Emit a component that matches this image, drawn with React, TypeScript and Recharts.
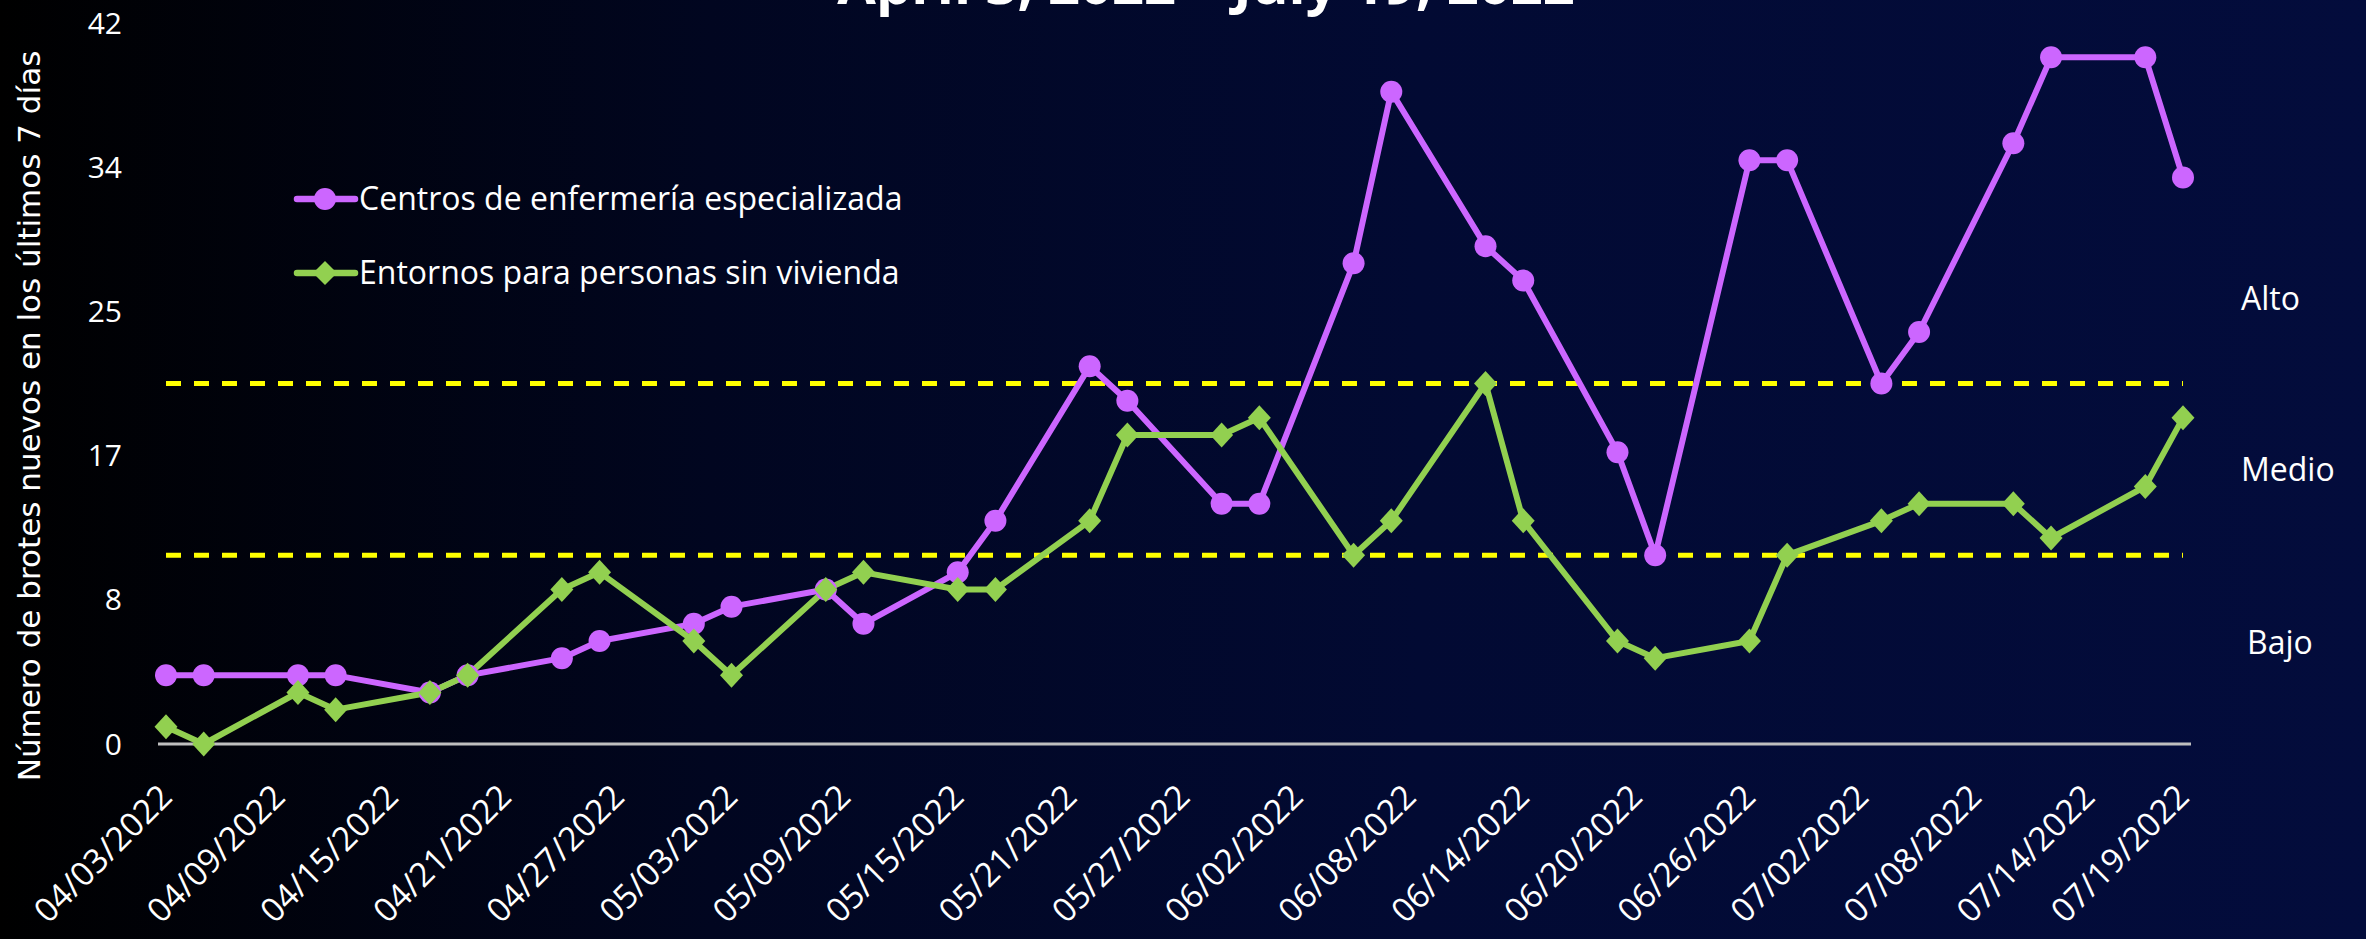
import React from "react"
import {
  LineChart,
  Line,
  XAxis,
  YAxis,
  ReferenceLine,
  Legend
} from "recharts"

// fechas de los datos (domingo / martes de cada semana)
const dates = [
  "04/03/2022", "04/05/2022", "04/10/2022", "04/12/2022", "04/17/2022", "04/19/2022",
  "04/24/2022", "04/26/2022", "05/01/2022", "05/03/2022", "05/08/2022", "05/10/2022",
  "05/15/2022", "05/17/2022", "05/22/2022", "05/24/2022", "05/29/2022", "05/31/2022",
  "06/05/2022", "06/07/2022", "06/12/2022", "06/14/2022", "06/19/2022", "06/21/2022",
  "06/26/2022", "06/28/2022", "07/03/2022", "07/05/2022", "07/10/2022", "07/12/2022",
  "07/17/2022", "07/19/2022",
]

const centros = [
  4, 4, 4, 4, 3, 4, 5, 6, 7, 8, 9, 7, 10, 13, 22, 20,
  14, 14, 28, 38, 29, 27, 17, 11, 34, 34, 21, 24, 35, 40, 40, 33,
]

const entornos = [
  1, 0, 3, 2, 3, 4, 9, 10, 6, 4, 9, 10, 9, 9, 13, 18,
  18, 19, 11, 13, 21, 13, 6, 5, 6, 11, 13, 14, 14, 12, 15, 19,
]

const tickLabels = [
  "04/03/2022", "04/09/2022", "04/15/2022", "04/21/2022", "04/27/2022", "05/03/2022",
  "05/09/2022", "05/15/2022", "05/21/2022", "05/27/2022", "06/02/2022", "06/08/2022",
  "06/14/2022", "06/20/2022", "06/26/2022", "07/02/2022", "07/08/2022", "07/14/2022",
  "07/19/2022",
]

const yTicks = [0, 8.4, 16.8, 25.2, 33.6, 42]
const thresholds = [11, 21]
const zoneLabels = ["Alto", "Medio", "Bajo"]
const seriesNames = ["Centros de enfermería especializada", "Entornos para personas sin vivienda"]

const PURPLE = "#CC66FF"
const GREEN = "#92D050"
const FONT = "'Open Sans', sans-serif"

const START = Date.UTC(2022, 3, 3)
const toDay = (s: string) => {
  const [m, d, y] = s.split("/").map(Number)
  return Math.round((Date.UTC(y, m - 1, d) - START) / 86400000)
}

const data = dates.map((d, i) => ({ day: toDay(d), centros: centros[i], entornos: entornos[i] }))
const tickDays = tickLabels.map(toDay)
const lastDay = tickDays[tickDays.length - 1]

function DateTick(props: any) {
  const { x, y, payload } = props
  const label = tickLabels[tickDays.indexOf(payload.value)]
  const tx = x + 8
  const ty = y + 55
  return (
    <text
      x={tx}
      y={ty}
      transform={`rotate(-45 ${tx} ${ty})`}
      textAnchor="end"
      fill="#fff"
      fontSize={33.5}
      fontFamily={FONT}
    >
      {label}
    </text>
  )
}

function CircleDot(props: any) {
  const { cx, cy, index } = props
  return <circle key={`c-${index}`} cx={cx} cy={cy} r={11} fill={PURPLE} />
}

function DiamondDot(props: any) {
  const { cx, cy, index } = props
  return (
    <path
      key={`d-${index}`}
      d={`M${cx},${cy - 12.5}L${cx + 11.5},${cy}L${cx},${cy + 12.5}L${cx - 11.5},${cy}Z`}
      fill={GREEN}
    />
  )
}

function LegendContent(props: any) {
  const { payload } = props
  return (
    <svg width={560} height={140} style={{ overflow: "visible" }}>
      {(payload || []).map((entry: any, i: number) => {
        const cy = 24 + i * 74
        return (
          <g key={entry.value}>
            <line x1={0} y1={cy} x2={58} y2={cy} stroke={entry.color} strokeWidth={6.5} strokeLinecap="round" />
            {entry.dataKey === "centros" ? (
              <circle cx={28} cy={cy} r={11} fill={entry.color} />
            ) : (
              <path d={`M28,${cy - 12}L40,${cy}L28,${cy + 12}L16,${cy}Z`} fill={entry.color} />
            )}
            <text x={62} y={cy + 11} fill="#fff" fontSize={32} fontFamily={FONT}>
              {entry.value}
            </text>
          </g>
        )
      })}
    </svg>
  )
}

export default function App() {
  return (
    <div
      style={{
        position: "absolute",
        left: 0,
        top: 0,
        width: 2366,
        height: 939,
        overflow: "hidden",
        background: "linear-gradient(90deg, #000000 0%, #010620 30%, #020a33 60%, #030c3c 100%)",
      }}
    >
      <LineChart
        width={2366}
        height={939}
        data={data}
        margin={{ top: 23, right: 175, bottom: 0, left: 0 }}
      >
        <XAxis
          type="number"
          dataKey="day"
          domain={[0, lastDay]}
          ticks={tickDays}
          interval={0}
          padding={{ left: 8, right: 8 }}
          height={195}
          tickSize={0}
          tickMargin={0}
          tickLine={false}
          axisLine={{ stroke: "#BFBFBF", strokeWidth: 3 }}
          tick={<DateTick />}
        />
        <YAxis
          type="number"
          domain={[0, 42]}
          ticks={yTicks}
          interval={0}
          width={158}
          axisLine={false}
          tickLine={false}
          tickMargin={30}
          tickFormatter={(v: number) => String(Math.round(v))}
          tick={{ fill: "#fff", fontSize: 30, fontFamily: FONT }}
        />
        {thresholds.map((t) => (
          <ReferenceLine
            key={t}
            segment={[{ x: 0, y: t }, { x: lastDay, y: t }]}
            stroke="#FFFF00"
            strokeWidth={5}
            strokeDasharray="15 13"
          />
        ))}
        <Legend
          layout="vertical"
          align="center"
          verticalAlign="middle"
          wrapperStyle={{ left: 297, top: 175, width: 560 }}
          content={<LegendContent />}
        />
        <Line
          type="linear"
          dataKey="centros"
          name={seriesNames[0]}
          stroke={PURPLE}
          strokeWidth={6}
          strokeLinejoin="round"
          dot={<CircleDot />}
          activeDot={false}
          isAnimationActive={false}
        />
        <Line
          type="linear"
          dataKey="entornos"
          name={seriesNames[1]}
          stroke={GREEN}
          strokeWidth={6}
          strokeLinejoin="round"
          dot={<DiamondDot />}
          activeDot={false}
          isAnimationActive={false}
        />
      </LineChart>

      <svg
        width={2366}
        height={939}
        style={{ position: "absolute", left: 0, top: 0, pointerEvents: "none" }}
      >
        <text x={1206} y={4} textAnchor="middle" fill="#fff" fontSize={56} fontWeight={700} fontFamily={FONT}>
          April 3, 2022 – July 19, 2022
        </text>
        <text
          x={40}
          y={416}
          transform="rotate(-90 40 416)"
          textAnchor="middle"
          fill="#fff"
          fontSize={31}
          fontFamily="'DejaVu Sans', sans-serif"
        >
          Número de brotes nuevos en los últimos 7 días
        </text>
        <text x={2241} y={310} fill="#fff" fontSize={32} fontFamily={FONT}>{zoneLabels[0]}</text>
        <text x={2241} y={481} fill="#fff" fontSize={32} fontFamily={FONT}>{zoneLabels[1]}</text>
        <text x={2247} y={654} fill="#fff" fontSize={32} fontFamily={FONT}>{zoneLabels[2]}</text>
      </svg>
    </div>
  )
}
